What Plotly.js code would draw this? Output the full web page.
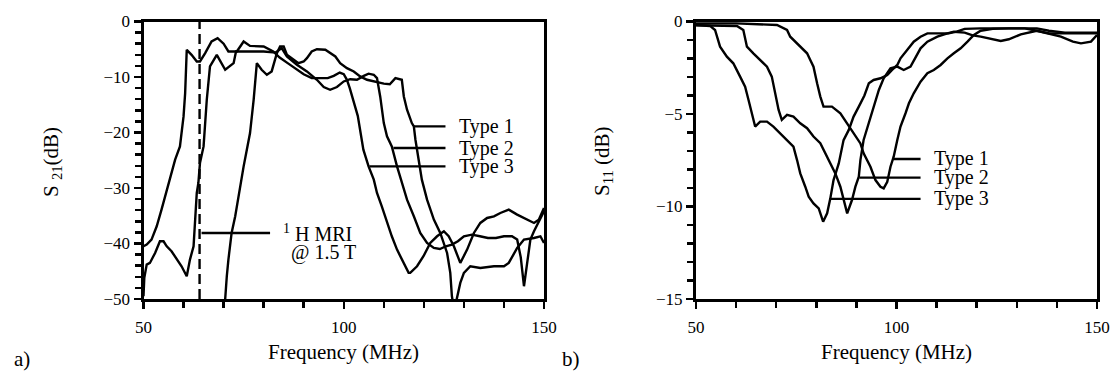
<!DOCTYPE html>
<html><head><meta charset="utf-8">
<script src="https://cdn.plot.ly/plotly-3.0.1.min.js"></script>
<style>html,body{margin:0;padding:0;background:#fff;}#chart{width:1110px;height:372px;}</style>
</head><body><div id="chart"></div>
<script>
// ---------- data ----------
const seriesNames = ['Type 1', 'Type 2', 'Type 3'];
const mriFreq = 64;

// (a) S21 transmission
const s21FreqType1 = [70.2, 70.4, 70.8, 71.2, 72, 72.9, 73.3, 74.1, 75, 75.8, 76.6, 77.5, 78.3, 79.5, 80.8, 82, 83.3, 84.1, 85, 85.8, 87.5, 88.7, 90, 90.8, 92, 93.3, 95.4, 96.6, 97.9, 99.1, 100.8, 102.5, 104.1, 105.8, 107.5, 110, 111.5, 112.9, 114.5, 115, 115.8, 117, 117.5, 117.9, 118.7, 119.5, 120.8, 122.5, 124.1, 125.8, 126.6, 127, 127.6, 128.3, 129.1, 130, 131.6, 134.1, 137.5, 140, 141.2, 143.3, 145, 147.5, 149.1, 150];
const s21Type1 = [-52, -49.5, -45.9, -42.9, -38.1, -35.1, -33.3, -30.3, -26.1, -23.1, -20.1, -14.1, -7.5, -8.7, -9.6, -9.0, -5.7, -4.5, -4.5, -6.0, -6.9, -7.5, -7.2, -6.6, -5.4, -5.0, -5.1, -5.7, -6.3, -7.5, -8.4, -9.0, -9.9, -10.5, -10.8, -11.2, -11.3, -10.2, -10.5, -13.5, -15.9, -18.3, -18.9, -21.3, -24.9, -28.5, -32.1, -35.7, -38.1, -41.7, -45.3, -49.5, -52, -49.5, -47.1, -45.3, -44.1, -44.4, -44.1, -44.1, -43.5, -40.8, -39.3, -39.0, -38.7, -39.9];

const s21FreqType2 = [50, 50.2, 50.8, 51.6, 52.9, 54.1, 55, 55.8, 57, 58.3, 59.5, 60.8, 61.6, 62.5, 62.9, 63.3, 63.7, 64.1, 65, 65.8, 66.6, 68.3, 70.4, 72.5, 73.1, 76, 80, 83, 84.5, 85.8, 88.3, 90.8, 93.3, 95, 96.6, 98.3, 100, 101.6, 103.3, 105, 106.2, 107.5, 108.3, 109.1, 110, 110.8, 112, 113.3, 114.5, 115.8, 117.5, 119.1, 120.8, 122.5, 124, 125.5, 127, 128.5, 130, 132, 134, 136, 138, 140, 142, 143.3, 144.2, 145, 145.8, 146.6, 147.5, 148.7, 149.5, 150];
const s21Type2 = [-49.5, -46.2, -43.8, -43.5, -41.7, -39.6, -39.6, -40.5, -41.4, -42.9, -44.1, -45.9, -42.9, -40.5, -35.1, -30.9, -29.1, -25.5, -22.5, -14.1, -8.1, -6.0, -8.7, -7.5, -5.4, -5.4, -5.4, -5.6, -4.8, -6.3, -7.8, -9.0, -10.5, -11.8, -12.3, -11.8, -10.8, -10.4, -10.5, -9.8, -9.4, -9.6, -10.2, -13.5, -18.3, -20.7, -22.5, -26.1, -29.1, -32.1, -35.1, -38.1, -39.9, -40.8, -41, -40.5, -40.2, -39.6, -38.7, -38.4, -38.7, -39, -39, -38.7, -38.7, -39.3, -42.5, -47.7, -43.5, -39.3, -37.8, -36, -34.8, -34.2];

const s21FreqType3 = [50, 50.8, 52, 53.3, 54.5, 55.8, 57, 57.9, 59.1, 60, 60.4, 60.8, 62, 63.3, 64.1, 65.4, 67, 68.5, 70, 71.2, 73.3, 75, 76.6, 80, 82.4, 84, 86, 88, 90, 92, 94, 96, 97.5, 99, 100, 100.8, 101.5, 102.5, 103.5, 104.9, 106.2, 107.5, 108.3, 109.5, 110.8, 112, 113.3, 115, 116.2, 116.6, 118.3, 119.9, 121.6, 123.3, 125, 126.2, 127.5, 129.1, 130.8, 132.5, 134.1, 135.8, 137.5, 139.1, 141.2, 143.3, 145.8, 147.5, 148.7, 150];
const s21Type3 = [-40.5, -40.2, -39.3, -36.9, -33.9, -30.3, -27.3, -24.9, -22.5, -17.1, -12.9, -5.1, -6.0, -7.2, -7.2, -5.7, -3.6, -3.0, -4.0, -5.4, -5.4, -3.6, -4.4, -4.5, -5.4, -6.5, -7.5, -8.5, -9.5, -10.2, -10.2, -10.2, -9.8, -9.2, -9.5, -10.5, -12, -14.5, -17, -23.1, -26.1, -28.5, -30.9, -33.3, -36.3, -38.7, -41.1, -43.5, -45.3, -45.3, -44.1, -42.3, -39.9, -38.7, -37.8, -38.7, -40.5, -43.5, -41.1, -38.1, -36.3, -35.4, -35.1, -34.5, -33.9, -34.8, -35.7, -36.3, -35.7, -33.6];

// (b) S11 reflection
const s11FreqType1 = [50, 60, 70.2, 72.7, 73.5, 75.2, 77.7, 78.5, 79.3, 80.2, 81, 81.8, 83.9, 86, 87.7, 89.3, 91, 91.8, 93.5, 94.75, 96, 96.8, 97.7, 98.5, 99.3, 100.2, 101, 102.25, 103.1, 104.3, 105.2, 106, 107.7, 109.3, 111, 112.7, 114.3, 116, 117.7, 119.3, 121, 124, 128, 132, 135, 138, 142, 146, 150];
const s11Type1 = [-0.1, -0.1, -0.19, -0.46, -0.82, -1.18, -1.72, -2.08, -2.44, -3.34, -4.06, -4.6, -4.6, -4.96, -5.5, -6.04, -6.59, -7.13, -7.85, -8.57, -8.93, -9.02, -8.66, -7.85, -7.31, -6.4, -5.68, -4.96, -4.42, -3.88, -3.52, -3.25, -2.8, -2.62, -2.35, -1.99, -1.72, -1.45, -1.09, -0.73, -0.5, -0.4, -0.37, -0.37, -0.37, -0.5, -0.6, -0.6, -0.6];

const s11FreqType2 = [50, 55, 60.2, 61.8, 62.7, 64.3, 66, 67.7, 68.9, 69.75, 70.6, 71.4, 72.7, 74.3, 76, 77.7, 79.3, 81, 82.25, 83.5, 84.75, 86, 86.8, 87.7, 88.9, 89.75, 90.6, 91, 91.8, 93.1, 94.3, 95.6, 96.8, 98.5, 100.2, 101.8, 103.5, 104.75, 106, 107.7, 110.2, 112.7, 114.3, 117, 119, 121, 123, 126, 128, 131, 135, 138, 141, 144, 146, 148.5, 150];
const s11Type2 = [-0.2, -0.2, -0.24, -0.46, -1.36, -1.72, -2.08, -2.44, -2.98, -3.88, -4.78, -5.32, -5.05, -5.14, -5.5, -5.77, -6.22, -6.58, -7.12, -7.67, -8.21, -8.93, -9.65, -10.37, -9.65, -8.93, -8.39, -7.49, -6.4, -5.5, -4.6, -3.7, -3.07, -2.53, -2.44, -2.62, -2.44, -1.9, -1.45, -1.09, -0.82, -0.64, -0.55, -0.6, -0.75, -0.82, -0.9, -1.05, -0.96, -0.7, -0.5, -0.64, -0.82, -1.09, -1.18, -1.09, -0.73];

const s11FreqType3 = [50, 53.5, 54.75, 56, 57.7, 59.3, 61, 62.25, 63.1, 63.9, 64.75, 66, 67.7, 69.3, 71, 72.7, 74.3, 75.2, 76, 77.25, 78.1, 79.3, 80.6, 81.7, 82.7, 83.5, 84.3, 85.6, 86.8, 88.1, 89.3, 90.6, 92, 93.1, 94.3, 96, 97.7, 98.9, 100.2, 101, 102.7, 104.3, 106, 107.7, 110, 113, 115, 117, 121, 127, 132, 135, 138, 142, 150];
const s11Type3 = [-0.19, -0.24, -0.46, -1.36, -1.9, -2.26, -2.98, -3.52, -4.24, -4.96, -5.68, -5.41, -5.41, -5.68, -6.04, -6.4, -6.77, -7.49, -8.21, -8.93, -9.47, -9.83, -10.1, -10.82, -10.37, -9.56, -8.57, -7.67, -6.41, -5.86, -5.14, -4.6, -4.0, -3.34, -3.16, -3.07, -2.89, -2.62, -2.35, -1.99, -1.54, -1.09, -0.82, -0.64, -0.64, -0.64, -0.55, -0.4, -0.37, -0.37, -0.37, -0.5, -0.64, -0.64, -0.64];

// ---------- figure ----------
const W = 1110, H = 372;
const fx = p => p / W;
const fy = p => 1 - p / H;
const FONT = '"Liberation Serif", "Times New Roman", Times, serif';
const ink = '#000';

function curve(x, y, xa, ya, name) {
  return {x: x, y: y, xaxis: xa, yaxis: ya, name: name, type: 'scatter', mode: 'lines',
          line: {color: ink, width: 2.4}, hoverinfo: 'skip'};
}

const traces = [
  curve(s21FreqType1, s21Type1, 'x', 'y', seriesNames[0]),
  curve(s21FreqType2, s21Type2, 'x', 'y', seriesNames[1]),
  curve(s21FreqType3, s21Type3, 'x', 'y', seriesNames[2]),
  {x: [mriFreq, mriFreq], y: [-50, 0], xaxis: 'x', yaxis: 'y', mode: 'lines',
   line: {color: ink, width: 2.4, dash: '10px,5px'}, hoverinfo: 'skip'},
  curve(s11FreqType1, s11Type1, 'x2', 'y2', seriesNames[0]),
  curve(s11FreqType2, s11Type2, 'x2', 'y2', seriesNames[1]),
  curve(s11FreqType3, s11Type3, 'x2', 'y2', seriesNames[2])
];

const axisCommon = {
  showline: true, linewidth: 3, linecolor: ink, mirror: true,
  showgrid: false, zeroline: false, ticks: 'outside', ticklen: 7, tickwidth: 2.5, tickcolor: ink,
  tickfont: {family: FONT, size: 17, color: ink}, fixedrange: true
};
function xAxis(domain, anchor) {
  return Object.assign({}, axisCommon, {
    domain: domain, anchor: anchor, range: [50, 150], tickvals: [50, 100, 150],
    ticklabelstandoff: 4,
    minor: {tick0: 50, dtick: 10, ticks: 'outside', ticklen: 6, tickwidth: 2.5, tickcolor: ink, showgrid: false}
  });
}
function yAxis(domain, anchor, range, dtick, minorDtick) {
  return Object.assign({}, axisCommon, {
    domain: domain, anchor: anchor, range: range, dtick: dtick, tick0: 0,
    minor: {tick0: 0, dtick: minorDtick, ticks: 'outside', ticklen: 6, tickwidth: 2.5, tickcolor: ink, showgrid: false}
  });
}

const yDom = [fy(299), fy(21.5)];

function leader(xa, ya, x0, x1, y) {
  return {type: 'line', xref: xa, yref: ya, x0: x0, x1: x1, y0: y, y1: y, line: {color: ink, width: 2.4}};
}
function label(xa, ya, x, y, text) {
  return {xref: xa, yref: ya, x: x, y: y, text: text, showarrow: false, xanchor: 'left', yanchor: 'middle',
          font: {family: FONT, size: 20, color: ink}};
}
function paperText(x, y, text, angle) {
  return {xref: 'paper', yref: 'paper', x: fx(x), y: fy(y), text: text, showarrow: false,
          xanchor: 'center', yanchor: 'middle', textangle: angle || 0,
          font: {family: FONT, size: 21, color: ink}};
}

const layout = {
  width: W, height: H, margin: {l: 0, r: 0, t: 0, b: 0},
  paper_bgcolor: '#fff', plot_bgcolor: '#fff', showlegend: false,
  font: {family: FONT, size: 17, color: ink},
  xaxis: xAxis([fx(143.5), fx(544)], 'y'),
  yaxis: yAxis(yDom, 'x', [-50, 0], 10, 2),
  xaxis2: xAxis([fx(696), fx(1097)], 'y2'),
  yaxis2: yAxis(yDom, 'x2', [-15, 0], 5, 1),
  shapes: [
    leader('x', 'y', 117.4, 125.4, -18.9),
    leader('x', 'y', 112.4, 125.4, -22.8),
    leader('x', 'y', 106.4, 125.4, -26.1),
    leader('x', 'y', 64.5, 81.6, -38.1),
    leader('x2', 'y2', 99.25, 106, -7.43),
    leader('x2', 'y2', 90.75, 106, -8.44),
    leader('x2', 'y2', 83.5, 106, -9.59)
  ],
  annotations: [
    label('x', 'y', 128.2, -18.9, seriesNames[0]),
    label('x', 'y', 128.2, -22.8, seriesNames[1]),
    label('x', 'y', 128.2, -26.1, seriesNames[2]),
    label('x', 'y', 84.4, -38.1, '<sup>1</sup> H MRI'),
    label('x', 'y', 86.3, -41.7, '@ 1.5 T'),
    label('x2', 'y2', 108.8, -7.43, seriesNames[0]),
    label('x2', 'y2', 108.8, -8.44, seriesNames[1]),
    label('x2', 'y2', 108.8, -9.59, seriesNames[2]),
    paperText(343.7, 352, 'Frequency (MHz)'),
    paperText(896.5, 352, 'Frequency (MHz)'),
    paperText(52, 162, 'S <sub>21</sub>(dB)', -90),
    paperText(603, 161, 'S<sub>11</sub> (dB)', -90),
    paperText(22, 359, 'a)'),
    paperText(571, 359, 'b)')
  ]
};

Plotly.newPlot('chart', traces, layout, {staticPlot: true, displayModeBar: false});
</script>
</body></html>
